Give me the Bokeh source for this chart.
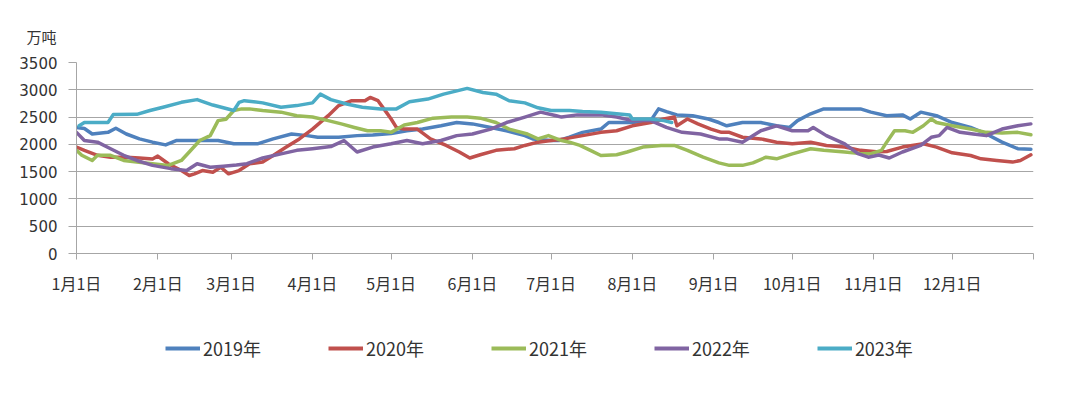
from bokeh.plotting import figure
from bokeh.layouts import column
from bokeh.models import FixedTicker, Legend, LegendItem, Range1d
from bokeh.embed import file_html
from bokeh.resources import INLINE

# ---- data (day of year, 万吨) ----
month_days = [0, 31, 59, 90, 120, 151, 181, 212, 243, 273, 304, 334, 365]
month_labels = ["1月1日", "2月1日", "3月1日", "4月1日", "5月1日", "6月1日", "7月1日",
                "8月1日", "9月1日", "10月1日", "11月1日", "12月1日", ""]
y_ticks = [0, 500, 1000, 1500, 2000, 2500, 3000, 3500]

days_2019 = [0, 3, 6, 12, 15, 19, 24, 29, 34, 38, 46, 54, 60, 64, 69, 75, 82, 88, 92, 100, 107, 113,
             120, 126, 132, 139, 145, 151, 158, 164, 171, 174, 181, 184, 188, 193, 200, 203, 212, 219,
             222, 225, 229, 235, 241, 245, 248, 254, 261, 267, 272, 275, 280, 285, 293, 299, 303, 309,
             315, 318, 322, 328, 334, 341, 347, 353, 359, 364]
vals_2019 = [2310, 2290, 2190, 2220, 2295, 2190, 2100, 2040, 1990, 2070, 2070, 2070, 2010, 2010, 2010,
             2100, 2190, 2160, 2130, 2130, 2160, 2170, 2200, 2250, 2280, 2340, 2400, 2375, 2310, 2250,
             2160, 2100, 2070, 2070, 2130, 2220, 2280, 2400, 2400, 2435, 2650, 2600, 2540, 2525, 2465,
             2400, 2340, 2400, 2400, 2340, 2310, 2435, 2560, 2650, 2650, 2650, 2590, 2525, 2540, 2465,
             2590, 2525, 2400, 2310, 2190, 2040, 1920, 1910]

days_2020 = [0, 3, 8, 13, 19, 24, 29, 31, 35, 40, 43, 45, 48, 52, 55, 58, 62, 66, 71, 75, 80, 85, 90,
             96, 100, 105, 110, 112, 115, 118, 120, 122, 125, 130, 135, 141, 146, 150, 154, 160, 167,
             171, 176, 181, 186, 193, 200, 206, 212, 219, 224, 228, 229, 233, 237, 242, 246, 249, 254,
             261, 267, 273, 280, 286, 293, 299, 305, 309, 315, 323, 328, 334, 341, 345, 351, 357, 360, 364]
vals_2020 = [1950, 1890, 1800, 1765, 1765, 1750, 1730, 1785, 1645, 1520, 1430, 1460, 1520, 1490, 1580,
             1460, 1520, 1645, 1675, 1795, 1950, 2100, 2280, 2525, 2710, 2800, 2800, 2860, 2800, 2600,
             2465, 2310, 2280, 2280, 2100, 1980, 1860, 1750, 1810, 1890, 1920, 1980, 2040, 2070, 2100,
             2160, 2220, 2250, 2340, 2400, 2465, 2500, 2340, 2465, 2375, 2280, 2220, 2220, 2130, 2100,
             2040, 2010, 2040, 1980, 1950, 1890, 1865, 1870, 1950, 2010, 1950, 1845, 1795, 1735, 1705,
             1675, 1705, 1810]

days_2021 = [0, 2, 6, 8, 13, 18, 23, 29, 35, 40, 43, 47, 51, 54, 57, 60, 63, 66, 71, 78, 84, 90, 96,
             101, 106, 111, 116, 120, 125, 130, 136, 143, 149, 154, 160, 165, 172, 176, 180, 185, 188,
             192, 196, 200, 206, 210, 216, 223, 228, 233, 239, 245, 249, 254, 258, 263, 267, 273, 280,
             285, 293, 299, 303, 307, 309, 312, 316, 319, 323, 326, 328, 334, 341, 347, 353, 359, 364]
vals_2021 = [1890, 1800, 1705, 1800, 1800, 1705, 1675, 1645, 1615, 1705, 1860, 2070, 2160, 2435, 2460,
             2620, 2650, 2650, 2620, 2590, 2525, 2500, 2435, 2375, 2310, 2250, 2250, 2220, 2355, 2400,
             2480, 2500, 2500, 2480, 2400, 2280, 2190, 2100, 2160, 2070, 2040, 1980, 1890, 1795, 1810,
             1860, 1950, 1980, 1980, 1890, 1765, 1660, 1615, 1615, 1660, 1765, 1735, 1825, 1920, 1890,
             1860, 1830, 1830, 1890, 2040, 2250, 2250, 2220, 2340, 2465, 2400, 2340, 2280, 2220, 2210,
             2220, 2175]

days_2022 = [0, 3, 8, 13, 18, 23, 29, 36, 42, 46, 51, 56, 61, 65, 71, 78, 84, 90, 97, 102, 107, 113,
             120, 126, 132, 139, 145, 151, 158, 164, 171, 177, 183, 185, 191, 200, 206, 212, 219, 225,
             231, 238, 245, 248, 254, 261, 267, 273, 279, 281, 286, 293, 298, 302, 306, 310, 315, 322,
             326, 329, 332, 337, 342, 347, 353, 359, 364]
vals_2022 = [2220, 2070, 2040, 1920, 1800, 1705, 1615, 1555, 1520, 1645, 1580, 1600, 1620, 1645, 1750,
             1825, 1890, 1920, 1960, 2070, 1860, 1950, 2010, 2070, 2010, 2070, 2160, 2190, 2280, 2400,
             2500, 2590, 2525, 2500, 2540, 2540, 2500, 2435, 2435, 2310, 2220, 2190, 2100, 2100, 2040,
             2250, 2340, 2250, 2250, 2310, 2160, 2010, 1830, 1765, 1805, 1750, 1860, 1980, 2130, 2160,
             2310, 2220, 2190, 2160, 2280, 2340, 2375]

days_2023 = [1, 3, 12, 14, 23, 28, 33, 40, 46, 52, 60, 62, 64, 71, 78, 84, 90, 93, 97, 103, 109, 116,
             122, 127, 134, 140, 149, 155, 160, 165, 171, 176, 181, 188, 193, 200, 206, 211, 212, 219,
             224, 227]
vals_2023 = [2340, 2400, 2400, 2545, 2550, 2620, 2680, 2770, 2820, 2720, 2620, 2770, 2800, 2760, 2680,
             2710, 2760, 2920, 2820, 2740, 2680, 2650, 2650, 2780, 2830, 2920, 3025, 2950, 2920, 2800,
             2760, 2670, 2620, 2620, 2600, 2590, 2560, 2540, 2465, 2465, 2435, 2400]

series = [("2019年", days_2019, vals_2019, "#4F81BD"),
          ("2020年", days_2020, vals_2020, "#C0504D"),
          ("2021年", days_2021, vals_2021, "#9BBB59"),
          ("2022年", days_2022, vals_2022, "#8064A2"),
          ("2023年", days_2023, vals_2023, "#4BACC6")]

W = 1064
p = figure(width=W, height=310, output_backend="svg", toolbar_location=None,
           x_range=Range1d(0, 365), y_range=Range1d(0, 3500),
           min_border_left=76, min_border_right=31, min_border_top=62, min_border_bottom=57)
p.outline_line_color = None
p.background_fill_color = "white"

for name, d, v, c in series:
    p.line(d, v, line_color=c, line_width=3.5, line_join="round", line_cap="round")

grey = "#a6a6a6"
p.xgrid.grid_line_color = None
p.ygrid.grid_line_color = grey
p.ygrid.grid_line_width = 1

p.xaxis.ticker = FixedTicker(ticks=month_days)
p.xaxis.major_label_overrides = {d: l for d, l in zip(month_days, month_labels)}
p.xaxis.axis_line_color = grey
p.xaxis.major_tick_line_color = grey
p.xaxis.major_tick_out = 6
p.xaxis.major_tick_in = 0
p.xaxis.minor_tick_line_color = None
p.xaxis.major_label_standoff = 11
p.xaxis.major_label_text_font = "Noto Sans CJK SC"
p.xaxis.major_label_text_font_size = "16px"
p.xaxis.major_label_text_color = "#333333"

p.yaxis.ticker = FixedTicker(ticks=y_ticks)
p.yaxis.axis_line_color = grey
p.yaxis.major_tick_line_color = grey
p.yaxis.major_tick_out = 8
p.yaxis.major_tick_in = 0
p.yaxis.minor_tick_line_color = None
p.yaxis.major_label_standoff = 11
p.yaxis.major_label_text_font = "DejaVu Sans"
p.yaxis.major_label_text_font_size = "15px"
p.yaxis.major_label_text_color = "#333333"

p.title.text = "万吨"
p.title.align = "left"
p.title.offset = -50
p.title.standoff = 31
p.title.text_font = "Noto Sans CJK SC"
p.title.text_font_size = "15px"
p.title.text_font_style = "normal"
p.title.text_color = "#333333"

# legend strip below the chart (its lines fall outside its own empty view)
lg = figure(width=W, height=67, output_backend="svg", toolbar_location=None,
            x_range=Range1d(0, 1), y_range=Range1d(0, 1),
            min_border_left=0, min_border_right=0, min_border_top=0, min_border_bottom=0)
lg.axis.visible = False
lg.grid.visible = False
lg.outline_line_color = None
items = []
for name, d, v, c in series:
    r = lg.line(d, v, line_color=c, line_width=4)
    items.append(LegendItem(label=name, renderers=[r]))
legend = Legend(items=items, orientation="horizontal", location=(89, 16),
                padding=0, margin=0, spacing=67, glyph_width=35, glyph_height=20,
                label_height=20, label_standoff=3,
                label_text_font="Noto Sans CJK SC", label_text_font_size="18px",
                label_text_color="#333333", border_line_color=None, background_fill_alpha=0)
lg.add_layout(legend)

open("out.html", "w").write(file_html(column(p, lg, spacing=0), INLINE))
